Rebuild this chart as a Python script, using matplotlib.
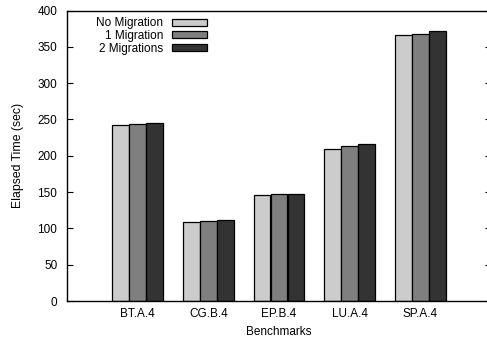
import matplotlib.pyplot as plt
import numpy as np

benchmarks = ['BT.A.4', 'CG.B.4', 'EP.B.4', 'LU.A.4', 'SP.A.4']
no_migration = [242, 109, 146, 210, 367]
one_migration = [244, 110, 147, 214, 368]
two_migrations = [245, 111, 148, 216, 372]

plt.rc('font', family=['Liberation Sans', 'DejaVu Sans'], size=8.5)
plt.rcParams['xtick.direction'] = 'in'
plt.rcParams['ytick.direction'] = 'in'

fig = plt.figure(figsize=[4.87, 3.41], dpi=100)
ax = fig.add_axes([0.1376, 0.1173, 0.8706, 0.8517])

x = np.arange(1, len(benchmarks) + 1)
w = 0.235
step = 0.24
ax.bar(x - step, no_migration, w, color='#cccccc', edgecolor='black', linewidth=0.9, label='No Migration')
ax.bar(x, one_migration, w, color='#7f7f7f', edgecolor='black', linewidth=0.9, label='1 Migration')
ax.bar(x + step, two_migrations, w, color='#333333', edgecolor='black', linewidth=0.9, label='2 Migrations')

ax.set_xlim(0, 6)
ax.set_ylim(0, 400)
ax.set_xticks(x)
ax.set_xticklabels(benchmarks)
ax.set_yticks(range(0, 401, 50))
ax.tick_params(axis='x', length=0, pad=5)
ax.tick_params(axis='y', length=4, width=0.8, right=True, pad=7)
for s in ax.spines.values():
    s.set_linewidth(1.0)

ax.set_xlabel('Benchmarks', labelpad=4)
ax.set_ylabel('Elapsed Time (sec)', fontsize=8.8, labelpad=10)

ax.legend(loc='upper left', bbox_to_anchor=(0.05, 1.005), frameon=False, markerfirst=False,
          handlelength=3.0, handleheight=0.5, labelspacing=0.05, handletextpad=0.7,
          borderaxespad=0.3)

plt.savefig('out.png', dpi=100)
